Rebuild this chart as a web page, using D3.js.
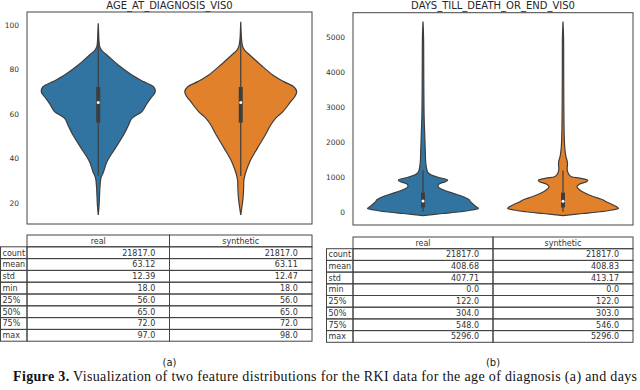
<!DOCTYPE html>
<html>
<head>
<meta charset="utf-8">
<script src="https://cdn.jsdelivr.net/npm/d3@7"></script>
<style>
  body { margin: 0; background: #fff; }
  svg { display: block; }
</style>
</head>
<body>
<div id="fig"></div>
<script>
// ---- data ----
var categories = ["real", "synthetic"];
var statNames = ["count", "mean", "std", "min", "25%", "50%", "75%", "max"];

var ageTicks = [20, 40, 60, 80, 100];
var daysTicks = [0, 1000, 2000, 3000, 4000, 5000];

// [value, relative density]
var ageRealDensity = [[14.5,0],[19,0.015],[23.5,0.023],[27,0.03],[31,0.047],[33.9,0.093],[38.4,0.153],[44.4,0.298],
  [50.4,0.444],[54.9,0.532],[57.9,0.59],[60.9,0.767],[63.5,0.83],[65.4,0.877],[67.6,0.942],[69.9,1.0],[72.1,0.97],
  [74.4,0.795],[77.4,0.591],[81.9,0.351],[86.4,0.153],[88.5,0.06],[90.1,0.026],[93,0.012],[97,0.006],[100.6,0]];
var ageSynthDensity = [[14.5,0],[18,0.02],[22,0.04],[26,0.05],[30,0.055],[32,0.07],[34,0.093],[38.4,0.158],[44.4,0.29],
  [50.4,0.43],[54.9,0.525],[57.9,0.61],[60.9,0.74],[65.4,0.877],[67.6,0.947],[70,0.982],[72.1,0.93],[74.4,0.754],
  [77.4,0.561],[81.9,0.351],[86.4,0.158],[88.5,0.07],[90.1,0.035],[94,0.012],[98,0.005],[101.3,0]];
var daysRealDensity = [[-110,0],[-50,0.35],[0,0.66],[50,0.88],[97,0.99],[140,0.95],[221,0.89],[300,0.84],[335,0.83],
  [430,0.72],[527,0.54],[622,0.37],[716,0.27],[785,0.28],[860,0.4],[908,0.44],[974,0.3],[1052,0.15],[1120,0.09],
  [1195,0.07],[1387,0.05],[1768,0.04],[2246,0.03],[2722,0.02],[3500,0.015],[4150,0.013],[5000,0.01],[5444,0]];
var daysSynthDensity = [[-110,0],[-50,0.35],[0,0.66],[50,0.88],[97,0.99],[140,0.96],[221,0.86],[287,0.77],[335,0.72],
  [430,0.55],[527,0.4],[622,0.3],[716,0.25],[785,0.29],[860,0.42],[900,0.44],[960,0.3],[1003,0.15],[1080,0.1],
  [1200,0.075],[1400,0.08],[1600,0.05],[1863,0.03],[2300,0.02],[3000,0.015],[4000,0.012],[5000,0.01],[5444,0]];

var ageRealStats  = ["21817.0", "63.12", "12.39", "18.0", "56.0", "65.0", "72.0", "97.0"];
var ageSynthStats = ["21817.0", "63.11", "12.47", "18.0", "56.0", "65.0", "72.0", "98.0"];
var daysRealStats  = ["21817.0", "408.68", "407.71", "0.0", "122.0", "304.0", "548.0", "5296.0"];
var daysSynthStats = ["21817.0", "408.83", "413.17", "0.0", "122.0", "303.0", "546.0", "5296.0"];

var colors = ["#3274a1", "#e1812c"];

var W = 640, H = 390;
var svg = d3.select("#fig").append("svg").attr("width", W).attr("height", H);
var FONT = "DejaVu Sans, sans-serif";

function panel(opt) {
  var g = svg.append("g");
  var x = d3.scaleBand().domain(categories).range([opt.left, opt.right]);
  var y = d3.scaleLinear().domain(opt.domain).range([opt.bottom, opt.top]);
  var w = d3.scaleLinear().domain([0, 1]).range([0, x.bandwidth() * 0.4]);

  // title
  g.append("text")
    .attr("x", (opt.left + opt.right) / 2).attr("y", 9)
    .attr("text-anchor", "middle")
    .style("font-family", FONT).style("font-size", "10px").style("fill", "#262626")
    .text(opt.title);

  // y axis
  var ax = g.append("g")
    .attr("transform", "translate(" + opt.left + ",0)")
    .call(d3.axisLeft(y).tickValues(opt.ticks).tickFormat(d3.format("d")).tickSize(0).tickPadding(8));
  ax.select(".domain").remove();
  ax.selectAll("text").style("font-family", FONT).style("font-size", "7.5px").style("fill", "#333");

  // violins
  var area = d3.area()
    .curve(d3.curveCatmullRom)
    .y(function (d) { return y(d[0]); });

  opt.densities.forEach(function (dens, i) {
    var cx = x(categories[i]) + x.bandwidth() / 2;
    area.x0(function (d) { return cx - w(d[1]); })
        .x1(function (d) { return cx + w(d[1]); });
    g.append("path")
      .attr("d", area(dens))
      .style("fill", colors[i])
      .style("stroke", "#3d3d3d")
      .style("stroke-width", 1.2);

    // inner box
    var st = opt.stats[i].map(Number);
    var q1 = st[4], med = st[5], q3 = st[6], iqr = q3 - q1;
    var lo = Math.max(st[3], q1 - 1.5 * iqr), hi = Math.min(st[7], q3 + 1.5 * iqr);
    g.append("line")
      .attr("x1", cx).attr("x2", cx).attr("y1", y(lo)).attr("y2", y(hi))
      .style("stroke", "#3d3d3d").style("stroke-width", 1.2);
    g.append("rect")
      .attr("x", cx - 2).attr("width", 4)
      .attr("y", y(q3)).attr("height", y(q1) - y(q3))
      .style("fill", "#3d3d3d");
    g.append("circle")
      .attr("cx", cx).attr("cy", y(med)).attr("r", 1.5)
      .style("fill", "#fff");
  });

  // frame
  g.append("rect")
    .attr("x", opt.left).attr("y", opt.top)
    .attr("width", opt.right - opt.left).attr("height", opt.bottom - opt.top)
    .style("fill", "none").style("stroke", "#444").style("stroke-width", 1);

  // table
  var t = svg.append("g").style("font-family", FONT).style("font-size", "8px").style("fill", "#333");
  var rh = opt.rowH, ty = opt.tableTop;
  var colX = [opt.idxLeft, opt.left, x(categories[1]), opt.right];
  var cellStyle = function (s) {
    s.style("fill", "none").style("stroke", "#444").style("stroke-width", 1);
  };
  // header cells
  categories.forEach(function (c, j) {
    t.append("rect").attr("x", colX[j + 1]).attr("y", ty)
      .attr("width", colX[j + 2] - colX[j + 1]).attr("height", rh).call(cellStyle);
    t.append("text").attr("x", (colX[j + 1] + colX[j + 2]) / 2).attr("y", ty + rh / 2)
      .attr("dy", "0.35em").attr("text-anchor", "middle").text(c);
  });
  statNames.forEach(function (name, r) {
    var yy = ty + rh * (r + 1);
    t.append("rect").attr("x", colX[0]).attr("y", yy)
      .attr("width", colX[1] - colX[0]).attr("height", rh).call(cellStyle);
    t.append("text").attr("x", colX[0] + 2).attr("y", yy + rh / 2).attr("dy", "0.35em").text(name);
    categories.forEach(function (c, j) {
      var x0 = colX[j + 1], x1 = colX[j + 2];
      t.append("rect").attr("x", x0).attr("y", yy)
        .attr("width", x1 - x0).attr("height", rh).call(cellStyle);
      t.append("text").attr("x", x1 - (x1 - x0) * 0.1).attr("y", yy + rh / 2)
        .attr("dy", "0.35em").attr("text-anchor", "end").text(opt.stats[j][r]);
    });
  });

  // sub caption
  svg.append("text")
    .attr("x", (opt.left + opt.right) / 2).attr("y", 366)
    .attr("text-anchor", "middle")
    .style("font-family", FONT).style("font-size", "10px").style("fill", "#222")
    .text(opt.sub);
}

panel({
  title: "AGE_AT_DIAGNOSIS_VIS0", sub: "(a)",
  left: 27, right: 312, top: 12, bottom: 224,
  domain: [10.4, 105.7], ticks: ageTicks,
  densities: [ageRealDensity, ageSynthDensity],
  stats: [ageRealStats, ageSynthStats],
  idxLeft: 0.5, tableTop: 235, rowH: 11.8
});

panel({
  title: "DAYS_TILL_DEATH_OR_END_VIS0", sub: "(b)",
  left: 353, right: 633, top: 12.7, bottom: 225,
  domain: [-380, 5700], ticks: daysTicks,
  densities: [daysRealDensity, daysSynthDensity],
  stats: [daysRealStats, daysSynthStats],
  idxLeft: 326.5, tableTop: 237, rowH: 11.7
});

// figure caption
var cap = svg.append("text")
  .attr("x", 13).attr("y", 381)
  .attr("textLength", 624).attr("lengthAdjust", "spacing")
  .style("font-family", "'Liberation Serif', 'Times New Roman', serif")
  .style("font-size", "14px").style("fill", "#111");
cap.append("tspan").style("font-weight", "bold").text("Figure 3.");
cap.append("tspan").text(" Visualization of two feature distributions for the RKI data for the age of diagnosis (a) and days");
</script>
</body>
</html>
